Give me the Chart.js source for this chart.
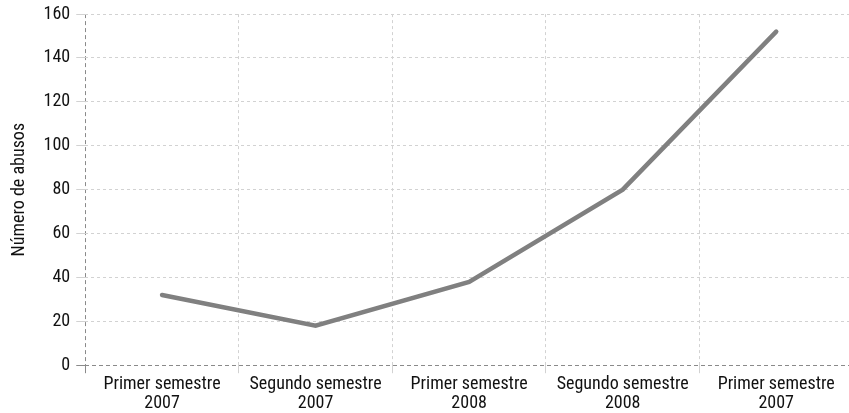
<!DOCTYPE html>
<html>
<head>
<meta charset="utf-8">
<script src="https://cdn.jsdelivr.net/npm/chart.js@4/dist/chart.umd.min.js"></script>
<style>
  html, body { margin: 0; padding: 0; background: #fff; overflow: hidden; }
  #wrap { width: 853px; height: 413px; }
</style>
</head>
<body>
<div id="wrap"><canvas id="abusosChart"></canvas></div>
<script>
// data
const periods = [
  ['Primer semestre', '2007'],
  ['Segundo semestre', '2007'],
  ['Primer semestre', '2008'],
  ['Segundo semestre', '2008'],
  ['Primer semestre', '2007']
];
const abusos = [32, 18, 38, 80, 152];
const yTicks = [0, 20, 40, 60, 80, 100, 120, 140, 160];

const fontFamily = '"Roboto Condensed", Roboto, sans-serif';
const gridColor = '#d2d2d2';
const axisColor = '#8a8a8a';

const ctx = document.getElementById('abusosChart').getContext('2d');
new Chart(ctx, {
  type: 'line',
  data: {
    labels: periods,
    datasets: [{
      label: 'Número de abusos',
      data: abusos,
      borderColor: '#808080',
      borderWidth: 4.5,
      borderCapStyle: 'round',
      borderJoinStyle: 'miter',
      pointRadius: 0,
      tension: 0,
      fill: false
    }]
  },
  options: {
    responsive: true,
    maintainAspectRatio: false,
    animation: false,
    layout: { padding: { top: 0, left: 9, right: 0, bottom: -2 } },
    plugins: {
      legend: { display: false },
      tooltip: { enabled: false }
    },
    scales: {
      x: {
        offset: true,
        grid: {
          offset: true,
          drawTicks: true,
          tickLength: 8,
          lineWidth: 1,
          color: c => c.index === 0 ? axisColor : gridColor
        },
        border: {
          display: false,
          dash: c => c.index === 0 ? [4, 3] : [3, 3]
        },
        ticks: {
          color: '#111',
          font: { family: fontFamily, size: 18, lineHeight: 1.05 },
          padding: 2,
          maxRotation: 0,
          autoSkip: false
        }
      },
      y: {
        min: 0,
        max: 160,
        afterBuildTicks: axis => { axis.ticks = yTicks.map(v => ({ value: v })); },
        grid: {
          drawTicks: true,
          tickLength: 9,
          lineWidth: 1,
          color: c => c.tick && c.tick.value === 0 ? axisColor : gridColor
        },
        border: {
          display: false,
          dash: c => c.tick && c.tick.value === 0 ? [4, 3] : [3, 3]
        },
        ticks: {
          color: '#111',
          font: { family: fontFamily, size: 18, lineHeight: 0.9 },
          padding: 6
        },
        title: {
          display: true,
          text: 'Número de abusos',
          color: '#111',
          font: { family: fontFamily, size: 18 },
          padding: { top: 0, bottom: 7 }
        }
      }
    }
  }
});
</script>
</body>
</html>
